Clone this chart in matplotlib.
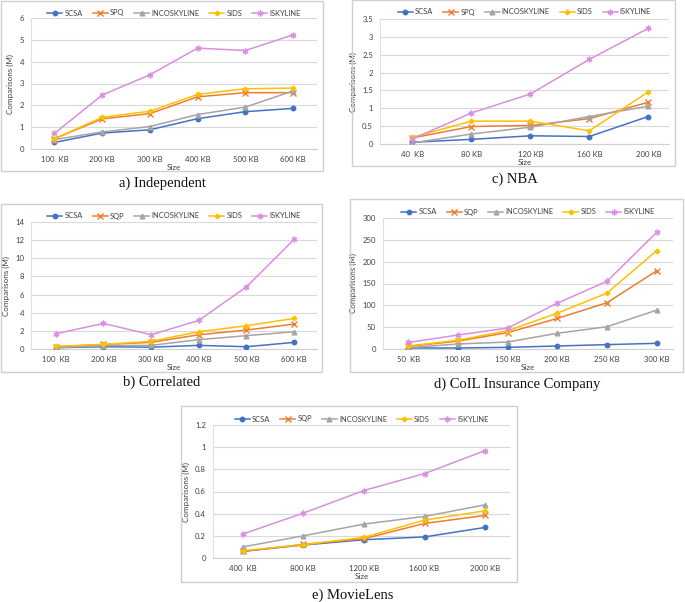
import matplotlib
matplotlib.use("Agg")
import matplotlib.pyplot as plt
from matplotlib.patches import Rectangle

W, H = 685, 602

# ---------------- data ----------------
series_names_a = ["SCSA", "SPQ", "INCOSKYLINE", "SIDS", "ISKYLINE"]
series_names_b = ["SCSA", "SQP", "INCOSKYLINE", "SIDS", "ISKYLINE"]

indep_x = ["100  KB", "200 KB", "300 KB", "400 KB", "500 KB", "600 KB"]
indep_scsa = [0.30, 0.73, 0.88, 1.39, 1.71, 1.86]
indep_spq = [0.47, 1.38, 1.62, 2.39, 2.58, 2.58]
indep_inco = [0.43, 0.78, 1.03, 1.58, 1.92, 2.66]
indep_sids = [0.47, 1.45, 1.73, 2.50, 2.76, 2.79]
indep_isky = [0.71, 2.47, 3.40, 4.62, 4.51, 5.23]

corr_x = ["100  KB", "200 KB", "300 KB", "400 KB", "500 KB", "600 KB"]
corr_scsa = [0.15, 0.25, 0.20, 0.40, 0.25, 0.73]
corr_sqp = [0.25, 0.50, 0.73, 1.57, 2.09, 2.75]
corr_inco = [0.15, 0.37, 0.40, 1.03, 1.47, 1.90]
corr_sids = [0.30, 0.50, 0.85, 1.90, 2.56, 3.37]
corr_isky = [1.68, 2.82, 1.57, 3.15, 6.85, 12.09]

nba_x = ["40  KB", "80 KB", "120 KB", "160 KB", "200 KB"]
nba_scsa = [0.05, 0.13, 0.23, 0.21, 0.77]
nba_spq = [0.17, 0.49, 0.52, 0.71, 1.17]
nba_inco = [0.03, 0.28, 0.47, 0.77, 1.06]
nba_sids = [0.19, 0.64, 0.64, 0.37, 1.46]
nba_isky = [0.14, 0.87, 1.40, 2.37, 3.24]

coil_x = ["50  KB", "100 KB", "150 KB", "200 KB", "250 KB", "300 KB"]
coil_scsa = [2.3, 2.3, 3.8, 6.9, 10.0, 13.0]
coil_sqp = [6.0, 18.0, 37.5, 70.0, 106.0, 179.0]
coil_inco = [3.0, 11.5, 16.0, 36.0, 51.0, 89.0]
coil_sids = [7.0, 20.0, 42.0, 82.0, 128.0, 225.0]
coil_isky = [15.0, 32.0, 48.0, 105.0, 155.0, 267.0]

movie_x = ["400  KB", "800 KB", "1200 KB", "1600 KB", "2000 KB"]
movie_scsa = [0.060, 0.117, 0.165, 0.190, 0.276]
movie_sqp = [0.060, 0.123, 0.174, 0.312, 0.384]
movie_inco = [0.100, 0.200, 0.306, 0.375, 0.480]
movie_sids = [0.066, 0.120, 0.186, 0.342, 0.426]
movie_isky = [0.216, 0.405, 0.609, 0.762, 0.969]

captions = ["a) Independent", "b) Correlated", "c) NBA",
            "d) CoIL Insurance Company", "e) MovieLens"]

# ---------------- styles ----------------
colors = ["#4472C4", "#ED7D31", "#A5A5A5", "#FFC000", "#D98FE0"]
markers = ["o", "x", "^", "D", (6, 2, 0)]
msizes = [3.2, 4.0, 3.4, 2.4, 4.2]

fig = plt.figure(figsize=(W / 100, H / 100), dpi=100)
fig.patch.set_facecolor("white")

LBL_FONT = "Lato"
CAP_FONT = "Liberation Serif"


def fbox(l, t, r, b):
    return [l / W, 1 - b / H, (r - l) / W, (b - t) / H]


def frame(l, t, r, b):
    fig.patches.append(Rectangle((l / W, 1 - b / H), (r - l) / W, (b - t) / H,
                                 transform=fig.transFigure, fill=False,
                                 edgecolor="#D0D0D0", linewidth=1.0))


def panel(box, xlim, xl, ys, names, ylim, ystep, legend_y, frm, cap, cap_xy):
    ax = fig.add_axes(fbox(*box))
    n = len(xl)
    xs = list(range(n))
    for i, (vals, nm) in enumerate(zip(ys, names)):
        ax.plot(xs, vals, color=colors[i], marker=markers[i], markersize=msizes[i],
                linewidth=1.1, label=nm, markeredgewidth=1.0, zorder=3 + i)
    ax.set_xlim(*xlim)
    ax.set_ylim(*ylim)
    ticks = []
    v = ylim[0]
    while v <= ylim[1] + 1e-9:
        ticks.append(round(v, 6))
        v += ystep
    ax.set_yticks(ticks)
    ax.set_yticklabels(["%g" % t for t in ticks], fontsize=5.6, family=LBL_FONT, color="#404040")
    ax.set_xticks(xs)
    ax.set_xticklabels(xl, fontsize=5.6, family=LBL_FONT, color="#404040")
    ax.tick_params(length=0, pad=5)
    ax.tick_params(axis="y", pad=5)
    ax.grid(axis="y", color="#D9D9D9", linewidth=0.8)
    ax.set_axisbelow(True)
    for s in ["top", "right"]:
        ax.spines[s].set_visible(False)
    ax.spines["bottom"].set_color("#D0D0D0")
    ax.spines["left"].set_color("#E0E0E0")
    ax.spines["left"].set_linewidth(0.8)
    ax.set_xlabel("Size", fontsize=5.8, family=LBL_FONT, color="#404040", labelpad=1)
    ax.set_ylabel("Comparisons (M)", fontsize=5.8, family=LBL_FONT, color="#404040", labelpad=4)
    ax.set_facecolor("none")
    cx = (box[0] + box[2]) / 2
    fig.legend(handles=ax.get_lines(), labels=names, loc="center",
               bbox_to_anchor=(cx / W, 1 - legend_y / H), ncol=5, frameon=False,
               prop={"family": LBL_FONT, "size": 5.4}, handlelength=2.0,
               columnspacing=1.3, handletextpad=0.3, labelcolor="#404040")
    frame(*frm)
    fig.text(cap_xy[0] / W, 1 - cap_xy[1] / H, cap, family=CAP_FONT, fontsize=10.5,
             ha="center", va="center", color="#111111")
    return ax


panel((31, 18, 317, 149), (-0.49, 5.5), indep_x,
      [indep_scsa, indep_spq, indep_inco, indep_sids, indep_isky], series_names_a,
      (0, 6), 1, 13, (1, 1, 323, 171), captions[0], (162, 183))

panel((31, 222, 317, 349), (-0.52, 5.48), corr_x,
      [corr_scsa, corr_sqp, corr_inco, corr_sids, corr_isky], series_names_b,
      (0, 14), 2, 216, (1, 204, 322, 372), captions[1], (162, 382))

panel((380, 19, 669, 144), (-0.55, 4.35), nba_x,
      [nba_scsa, nba_spq, nba_inco, nba_sids, nba_isky], series_names_a,
      (0, 3.5), 0.5, 12, (352, 0, 675, 166), captions[2], (515, 179))

panel((383, 218, 673, 349), (-0.51, 5.33), coil_x,
      [coil_scsa, coil_sqp, coil_inco, coil_sids, coil_isky], series_names_b,
      (0, 300), 50, 212, (350, 199, 683, 372), captions[3], (517, 384))

panel((213, 425, 510, 558), (-0.49, 4.41), movie_x,
      [movie_scsa, movie_sqp, movie_inco, movie_sids, movie_isky], series_names_b,
      (0, 1.2), 0.2, 419, (181, 406, 517, 582), captions[4], (353, 595))

fig.savefig("out.png", dpi=100, facecolor="white")
